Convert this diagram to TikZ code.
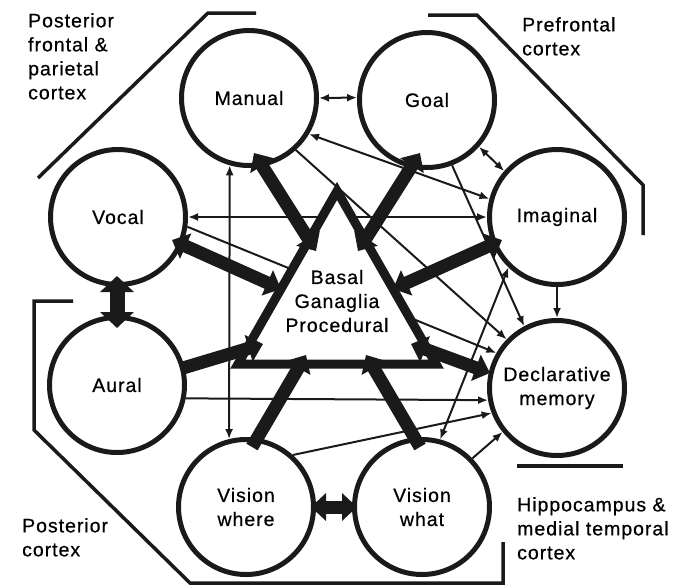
\documentclass[tikz,border=0pt]{standalone}
\usepackage{fontspec}
\setmainfont{Liberation Sans}[LetterSpace=5,FakeBold=0.6]
\usetikzlibrary{arrows.meta}
\definecolor{ink}{HTML}{1A1A1A}
\newcommand\lblfont{\fontsize{19.5}{24}\selectfont}
\begin{document}
\begin{tikzpicture}[x=1pt,y=-1pt,
  mod/.style={circle,draw=ink,line width=5pt,minimum size=135pt,inner sep=0pt,align=center,font=\lblfont},
  lnkA/.style={draw=ink,line width=2pt,{Latex[length=10pt,width=8pt]}-{Latex[length=10pt,width=8pt]}},
  lnkB/.style={draw=ink,line width=2pt,-{Latex[length=10pt,width=8pt]}},
  fatA/.style={draw=ink,line width=13pt,{Triangle[length=15pt,width=27pt]}-{Triangle[length=15pt,width=27pt]}},
  fatB/.style={draw=ink,line width=13pt,-{Triangle[length=15pt,width=27pt]}},
  fatC/.style={draw=ink,line width=15pt,{Triangle[length=16pt,width=33pt]}-{Triangle[length=16pt,width=33pt]}},
  region/.style={draw=ink,line width=3.5pt},
  lbl/.style={anchor=north west,align=left,font=\lblfont,inner sep=0pt}
]
\useasboundingbox (0,0) rectangle (687,587);

% region outlines
\draw[region] (38,178) -- (208,13) -- (256,13);
\draw[region] (428,15) -- (477,15) -- (643,185) -- (643,235);
\draw[region] (73,301) -- (34,301) -- (34,430) -- (190,583) -- (503,583) -- (503,542);
\draw[region] (517,466) -- (623,466);

% region labels
\node[lbl] (lpf) at (28,13) {Posterior\\frontal \&\\parietal\\cortex};
\node[lbl] (lpre) at (522,17) {Prefrontal\\cortex};
\node[lbl] (lpc) at (22,518) {Posterior\\cortex};
\node[lbl] (lhip) at (517,497) {Hippocampus \&\\medial temporal\\cortex};

% modules
\node[mod] (manual) at (249,98) {Manual};
\node[mod] (goal) at (427,100) {Goal};
\node[mod] (vocal) at (118,217) {Vocal};
\node[mod] (imaginal) at (557,217) {Imaginal};
\node[mod] (aural) at (117,385) {Aural};
\node[mod] (decl) at (557,388) {Declarative\\memory};
\node[mod] (vwhere) at (246,507) {Vision\\where};
\node[mod] (vwhat) at (422,507) {Vision\\what};

% thin connections
\draw[lnkA] (manual.east) -- (goal.178);
\draw[lnkA] (manual.-31) -- (imaginal.165);
\draw[lnkA] (goal.-42) -- (imaginal.139);
\draw[lnkA] (vocal.east) -- (imaginal.west);
\draw[lnkA] (manual.-106) -- (vwhere.104);
\draw[lnkB] (imaginal.south) -- (decl.north);
\draw[lnkB] (goal.-69.5) -- (decl.118.6);
\draw[lnkB] (manual.-48.5) -- (decl.136.6);
\draw[lnkB] (vocal.-8) -- (decl.150);
\draw[lnkB] (aural.-11) -- (decl.190);
\draw[lnkB] (vwhere.48) -- (decl.201);
\draw[lnkB] (vwhat.44) -- (decl.219.5);
\draw[lnkA] (vwhat.75.6) -- (imaginal.226);

% basal ganglia triangle
\coordinate (ta) at (337,191);
\coordinate (tb) at (238,364);
\coordinate (tc) at (436,364);
\draw[ink,line width=9pt,fill=white,line join=miter] (ta) -- (tb) -- (tc) -- cycle;
\node[font=\lblfont,align=center,inner sep=0pt] (bg) at (337,301) {Basal\\Ganaglia\\Procedural};

% thick connections
\coordinate (cM) at (254,153); \coordinate (tM) at (316,251);
\coordinate (cG) at (420,153); \coordinate (tG) at (358,251);
\coordinate (cV) at (172,240); \coordinate (tV) at (281,289);
\coordinate (cI) at (502,240); \coordinate (tI) at (393,289);
\coordinate (cA) at (183,368); \coordinate (tA) at (263,344);
\coordinate (cD) at (490,373); \coordinate (tD) at (411,344);
\coordinate (cW) at (252,447); \coordinate (tW) at (306,355);
\coordinate (cT) at (420,447); \coordinate (tT) at (366,355);
\draw[fatA] (cM) -- (tM);
\draw[fatA] (cG) -- (tG);
\draw[fatA] (cV) -- (tV);
\draw[fatA] (cI) -- (tI);
\draw[fatB] (cA) -- (tA);
\draw[fatA] (cD) -- (tD);
\draw[fatB] (cW) -- (tW);
\draw[fatB] (cT) -- (tT);

\coordinate (va1) at (117,276); \coordinate (va2) at (117,328);
\draw[fatC] (va1) -- (va2);
\coordinate (ww1) at (311,507); \coordinate (ww2) at (357,507);
\draw[fatA] (ww1) -- (ww2);
\end{tikzpicture}
\end{document}
